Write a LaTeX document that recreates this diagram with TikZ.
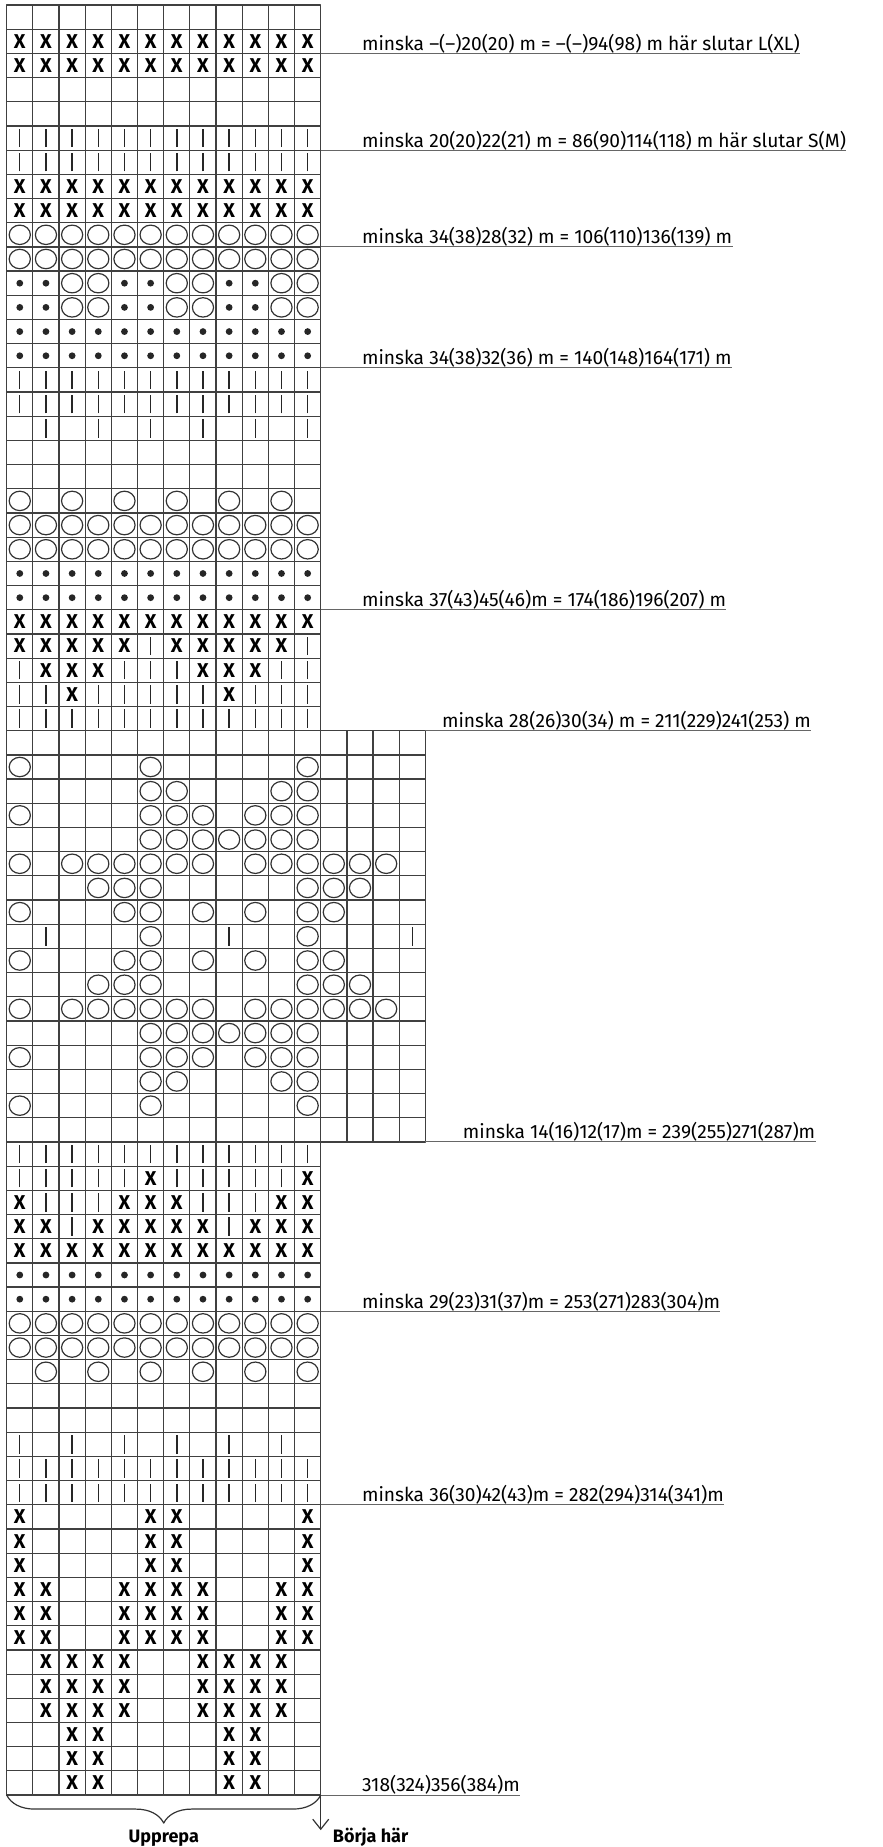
\documentclass[tikz,border=0pt]{standalone}
\usepackage{fontspec}
\setmainfont{Fira Sans}
\usetikzlibrary{arrows.meta,decorations.pathreplacing}

% one chart square: frame and the stitch symbol inside it
\newcommand{\stitchn}[2]{}
\newcommand{\stitchx}[2]{\node[xmark] (x-#1-#2) at (#2-.5,#1-.5) {X};}
\newcommand{\stitcho}[2]{\draw[ring] (#2-.5,#1-.5) ellipse [x radius=5.3pt, y radius=4.85pt];}
\newcommand{\stitchd}[2]{\fill[black!85] (#2-.5,#1-.5) circle [radius=1.7pt];}
\newcommand{\stitchv}[2]{\draw[bar] (#2-.5,#1-.12) -- (#2-.5,#1-.88);}
\newcommand{\knit}[3]{\draw[gridln] (#3-1,#2-1) rectangle (#3,#2);
  \csname stitch#1\endcsname{#2}{#3}}

\begin{document}
\begin{tikzpicture}[x=13.085pt, y=-12.095pt, line join=round,
  gridln/.style={draw=black!75, line width=0.6pt},
  ring/.style={draw=black!80, line width=0.6pt},
  bar/.style={draw=black!85, line width=0.7pt},
  xmark/.style={inner sep=0pt, font=\fontsize{10}{12}\selectfont\bfseries},
  lbl/.style={anchor=base west, inner sep=0pt, font=\fontsize{9.6}{11}\selectfont},
  lead/.style={draw=black!60, line width=0.55pt},
  big/.style={inner sep=0pt, font=\fontsize{9}{11}\selectfont\bfseries}]

\useasboundingbox (-0.256,-0.2067) rectangle (33.447,76.147);

% rows that hold one symbol all the way across
\foreach \r/\s/\w in {1/n/12,2/x/12,3/x/12,4/n/12,5/n/12,6/v/12,7/v/12,8/x/12,
    9/x/12,10/o/12,11/o/12,14/d/12,15/d/12,16/v/12,17/v/12,19/n/12,20/n/12,
    22/o/12,23/o/12,24/d/12,25/d/12,26/x/12,30/v/12,31/n/16,47/n/16,48/v/12,
    52/x/12,53/d/12,54/d/12,55/o/12,56/o/12,58/n/12,59/n/12,61/v/12,62/v/12}
  \foreach \c in {1,...,\w} {\knit{\s}{\r}{\c}}

% rows with a pattern, column by column
\foreach \r/\pat in {
    12/{d,d,o,o,d,d,o,o,d,d,o,o}, 13/{d,d,o,o,d,d,o,o,d,d,o,o},
    18/{n,v,n,v,n,v,n,v,n,v,n,v}, 21/{o,n,o,n,o,n,o,n,o,n,o,n},
    27/{x,x,x,x,x,v,x,x,x,x,x,v}, 28/{v,x,x,x,v,v,v,x,x,x,v,v},
    29/{v,v,x,v,v,v,v,v,x,v,v,v},
    32/{o,n,n,n,n,o,n,n,n,n,n,o,n,n,n,n}, 33/{n,n,n,n,n,o,o,n,n,n,o,o,n,n,n,n},
    34/{o,n,n,n,n,o,o,o,n,o,o,o,n,n,n,n}, 35/{n,n,n,n,n,o,o,o,o,o,o,o,n,n,n,n},
    36/{o,n,o,o,o,o,o,o,n,o,o,o,o,o,o,n}, 37/{n,n,n,o,o,o,n,n,n,n,n,o,o,o,n,n},
    38/{o,n,n,n,o,o,n,o,n,o,n,o,o,n,n,n}, 39/{n,v,n,n,n,o,n,n,v,n,n,o,n,n,n,v},
    40/{o,n,n,n,o,o,n,o,n,o,n,o,o,n,n,n}, 41/{n,n,n,o,o,o,n,n,n,n,n,o,o,o,n,n},
    42/{o,n,o,o,o,o,o,o,n,o,o,o,o,o,o,n}, 43/{n,n,n,n,n,o,o,o,o,o,o,o,n,n,n,n},
    44/{o,n,n,n,n,o,o,o,n,o,o,o,n,n,n,n}, 45/{n,n,n,n,n,o,o,n,n,n,o,o,n,n,n,n},
    46/{o,n,n,n,n,o,n,n,n,n,n,o,n,n,n,n},
    49/{v,v,v,v,v,x,v,v,v,v,v,x}, 50/{x,v,v,v,x,x,x,v,v,v,x,x},
    51/{x,x,v,x,x,x,x,x,v,x,x,x}, 57/{n,o,n,o,n,o,n,o,n,o,n,o},
    60/{v,n,v,n,v,n,v,n,v,n,v,n},
    63/{x,n,n,n,n,x,x,n,n,n,n,x}, 64/{x,n,n,n,n,x,x,n,n,n,n,x},
    65/{x,n,n,n,n,x,x,n,n,n,n,x}, 66/{x,x,n,n,x,x,x,x,n,n,x,x},
    67/{x,x,n,n,x,x,x,x,n,n,x,x}, 68/{x,x,n,n,x,x,x,x,n,n,x,x},
    69/{n,x,x,x,x,n,n,x,x,x,x,n}, 70/{n,x,x,x,x,n,n,x,x,x,x,n},
    71/{n,x,x,x,x,n,n,x,x,x,x,n}, 72/{n,n,x,x,n,n,n,n,x,x,n,n},
    73/{n,n,x,x,n,n,n,n,x,x,n,n}, 74/{n,n,x,x,n,n,n,n,x,x,n,n}}
  \foreach \s [count=\c] in \pat {\knit{\s}{\r}{\c}}

% decrease notes, each sitting on a line drawn out from the chart edge
\coordinate (e1) at (12,2);   \coordinate (e2) at (12,6);
\coordinate (e3) at (12,10);  \coordinate (e4) at (12,15);
\coordinate (e5) at (12,25);  \coordinate (e6) at (16,30);
\coordinate (e7) at (16,47);  \coordinate (e8) at (12,54);
\coordinate (e9) at (12,62);  \coordinate (e10) at (12,74);

\node[lbl] (endL)  at (13.565,1.87)  {minska –(–)20(20) m = –(–)94(98) m här slutar L(XL)};
\node[lbl] (endS)  at (13.565,5.87)  {minska 20(20)22(21) m = 86(90)114(118) m här slutar S(M)};
\node[lbl] (dec3)  at (13.565,9.87)  {minska 34(38)28(32) m = 106(110)136(139) m};
\node[lbl] (dec4)  at (13.565,14.87) {minska 34(38)32(36) m = 140(148)164(171) m};
\node[lbl] (dec5)  at (13.565,24.87) {minska 37(43)45(46)m = 174(186)196(207) m};
\node[lbl] (dec6)  at (16.62,29.87)  {minska 28(26)30(34) m = 211(229)241(253) m};
\node[lbl] (dec7)  at (17.42,46.87)  {minska 14(16)12(17)m = 239(255)271(287)m};
\node[lbl] (dec8)  at (13.565,53.87) {minska 29(23)31(37)m = 253(271)283(304)m};
\node[lbl] (dec9)  at (13.565,61.87) {minska 36(30)42(43)m = 282(294)314(341)m};
\node[lbl] (cast)  at (13.565,73.87) {318(324)356(384)m};

\foreach \e/\n in {e1/endL,e2/endS,e3/dec3,e4/dec4,e5/dec5,e6/dec6,e7/dec7,
    e8/dec8,e9/dec9,e10/cast}
  \draw[lead] (\e) -- (\e -| \n.east);

% the repeat and where to begin
\coordinate (sw) at (0,74);
\coordinate (se) at (12,74);
\coordinate (go) at (12,75.45);
\draw[black!80, line width=0.6pt, decorate,
      decoration={brace, mirror, amplitude=14pt}] (sw) -- (se);
\draw[black!80, line width=0.6pt, -{Straight Barb[length=5pt, width=8pt]}] (se) -- (go);
\node[big, anchor=base] (rep) at (6,75.95) {Upprepa};
\node[big, anchor=base west] (start) at (12.45,75.97) {Börja här};
\end{tikzpicture}
\end{document}
